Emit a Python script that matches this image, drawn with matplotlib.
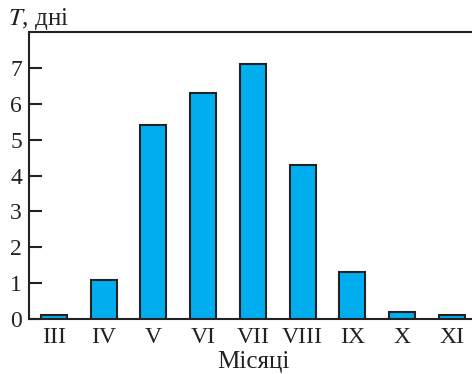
import matplotlib
matplotlib.use("Agg")
import matplotlib.pyplot as plt

months = ["III", "IV", "V", "VI", "VII", "VIII", "IX", "X", "XI"]
days = [0.1, 1.1, 5.4, 6.3, 7.1, 4.3, 1.3, 0.2, 0.1]
y_ticks = [0, 1, 2, 3, 4, 5, 6, 7]

plt.rcParams["font.family"] = ["Liberation Serif", "DejaVu Serif"]
plt.rcParams["mathtext.fontset"] = "stix"

fig = plt.figure(figsize=(4.72, 3.74), dpi=100)
ax = fig.add_axes([29 / 472, 55 / 374, 1 - 29 / 472 + 0.01, 287 / 374])

x = list(range(len(months)))
ax.bar(x, days, width=0.52, color="#00AEEF", edgecolor="#222222", linewidth=1.5, zorder=3)

ax.set_xlim(-0.5, 8.5)
ax.set_ylim(0, 8)
ax.set_yticks(y_ticks)
ax.set_xticks(x)
ax.set_xticklabels(months)
ax.tick_params(axis="y", direction="in", length=9, width=1.5, labelsize=17, pad=5, colors="#222222")
ax.tick_params(axis="x", length=0, labelsize=17, pad=6, colors="#222222")
for s in ["left", "bottom", "top"]:
    ax.spines[s].set_linewidth(1.5)
    ax.spines[s].set_color("#222222")
ax.spines["right"].set_visible(False)

fig.text(8 / 472, 1 - 25 / 374, r"$T$, дні", fontsize=18, color="#222222", va="baseline")
fig.text(253 / 472, 1 - 368 / 374, "Місяці", fontsize=18, color="#222222", ha="center", va="baseline")

fig.savefig("out.png", dpi=100)
